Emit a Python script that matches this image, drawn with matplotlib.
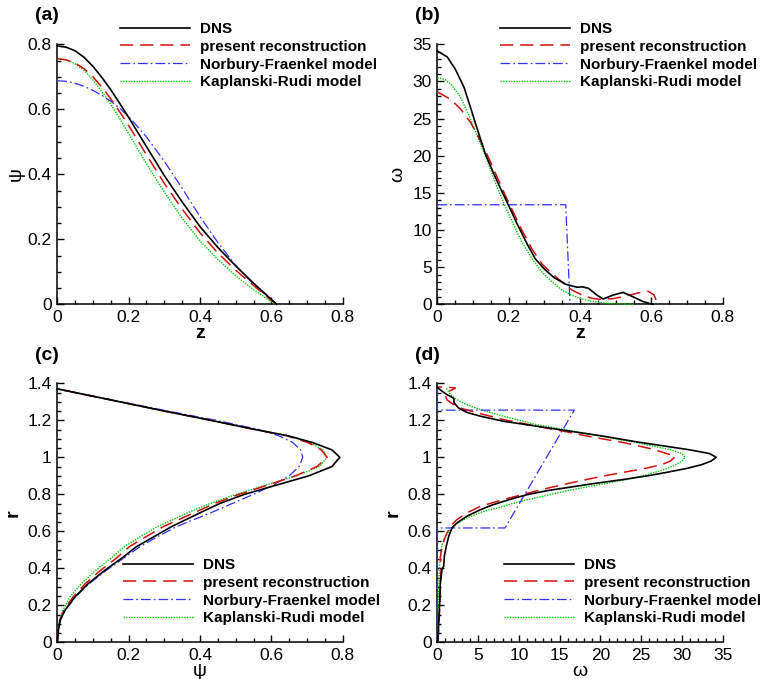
import matplotlib
matplotlib.use('Agg')
import matplotlib.pyplot as plt
from matplotlib.ticker import MultipleLocator, FuncFormatter

plt.rcParams['font.family'] = ['Liberation Sans', 'DejaVu Sans']
plt.rcParams['lines.scale_dashes'] = False

labels = ['DNS', 'present reconstruction', 'Norbury-Fraenkel model', 'Kaplanski-Rudi model']

# (a) stream function along the axis, psi(z)
z_a = [0, 0.025, 0.05, 0.075, 0.1, 0.125, 0.15, 0.175, 0.2, 0.25, 0.3, 0.35, 0.4, 0.45, 0.5, 0.55, 0.6, 0.615]
psi_a_dns = [0.795, 0.791, 0.78, 0.76, 0.732, 0.698, 0.66, 0.618, 0.575, 0.485, 0.396, 0.315, 0.239, 0.175, 0.118, 0.065, 0.015, 0]
psi_a_rec = [0.756, 0.752, 0.742, 0.725, 0.70, 0.668, 0.632, 0.592, 0.55, 0.46, 0.372, 0.293, 0.22, 0.158, 0.105, 0.058, 0.012, 0]
psi_a_nf = [0.688, 0.686, 0.68, 0.671, 0.658, 0.643, 0.625, 0.603, 0.578, 0.515, 0.44, 0.357, 0.27, 0.19, 0.12, 0.062, 0.014, 0]
z_a_kr = [0, 0.025, 0.05, 0.075, 0.1, 0.125, 0.15, 0.175, 0.2, 0.25, 0.3, 0.35, 0.4, 0.45, 0.5, 0.55, 0.6, 0.61]
psi_a_kr = [0.756, 0.752, 0.74, 0.72, 0.69, 0.655, 0.615, 0.572, 0.525, 0.432, 0.345, 0.265, 0.195, 0.138, 0.088, 0.045, 0.008, 0]

# (b) vorticity along the axis, omega(z)
z_b_dns = [0, 0.028, 0.051, 0.075, 0.093, 0.112, 0.135, 0.159, 0.182, 0.2, 0.224, 0.252, 0.275, 0.299, 0.327,
           0.36, 0.375, 0.392, 0.407, 0.424, 0.447, 0.465, 0.493, 0.521, 0.549, 0.577, 0.596, 0.605]
om_b_dns = [34.1, 33.3, 31.6, 29.2, 26.5, 23.6, 20.2, 17.5, 15.1, 13.3, 10.8, 8.1, 6.1, 4.8, 3.6,
            2.7, 2.5, 2.3, 2.35, 2.15, 1.25, 0.71, 1.25, 1.6, 1.0, 0.36, 0.1, 0]
z_b_rec = [0, 0.037, 0.065, 0.093, 0.121, 0.145, 0.168, 0.191, 0.215, 0.238, 0.266, 0.294, 0.322, 0.35,
           0.378, 0.406, 0.434, 0.456, 0.493, 0.53, 0.568, 0.591, 0.607, 0.615, 0.617]
om_b_rec = [28.6, 27.6, 26.3, 24.5, 22.0, 19.6, 17.1, 14.6, 12.2, 9.9, 7.4, 5.4, 4.1, 3.0,
            1.9, 1.25, 0.8, 0.67, 0.76, 1.13, 1.58, 1.76, 1.27, 0.4, 0]
z_b_nf = [0, 0.36, 0.372]
om_b_nf = [13.4, 13.4, 0]
z_b_kr = [0, 0.02, 0.037, 0.065, 0.093, 0.121, 0.145, 0.168, 0.191, 0.215, 0.238, 0.266, 0.294, 0.322,
          0.35, 0.378, 0.406, 0.434, 0.467, 0.5, 0.55]
om_b_kr = [30.5, 30.3, 29.7, 27.9, 24.9, 21.6, 18.7, 15.7, 13.1, 10.6, 8.3, 6.1, 4.3, 3.0,
           1.9, 1.2, 0.7, 0.4, 0.18, 0.06, 0]

# (c) stream function across the ring, psi(r)
r_c = [0, 0.066, 0.12, 0.175, 0.247, 0.318, 0.39, 0.454, 0.517, 0.57, 0.625, 0.7, 0.75, 0.8, 0.85,
       0.9, 0.95, 1.0, 1.04, 1.08, 1.117, 1.15, 1.2, 1.25, 1.3, 1.37]
psi_c_dns = [0, 0.003, 0.008, 0.022, 0.05, 0.087, 0.134, 0.18, 0.222, 0.27, 0.32, 0.40, 0.455, 0.525, 0.615,
             0.705, 0.77, 0.792, 0.77, 0.715, 0.645, 0.554, 0.43, 0.30, 0.175, 0]
psi_c_rec = [0, 0.002, 0.007, 0.019, 0.045, 0.079, 0.122, 0.165, 0.202, 0.248, 0.297, 0.383, 0.44, 0.51, 0.59,
             0.668, 0.728, 0.756, 0.74, 0.702, 0.642, 0.554, 0.43, 0.30, 0.175, 0]
psi_c_nf = [0, 0.003, 0.009, 0.023, 0.052, 0.09, 0.138, 0.185, 0.232, 0.28, 0.334, 0.43, 0.49, 0.55, 0.605,
            0.65, 0.678, 0.688, 0.682, 0.66, 0.62, 0.565, 0.445, 0.31, 0.18, 0]
psi_c_kr = [0, 0.002, 0.006, 0.016, 0.036, 0.068, 0.108, 0.15, 0.188, 0.232, 0.28, 0.365, 0.428, 0.502, 0.585,
            0.67, 0.735, 0.756, 0.745, 0.708, 0.648, 0.56, 0.432, 0.30, 0.175, 0]

# (d) vorticity across the ring, omega(r)
r_d_dns = [0, 0.014, 0.105, 0.213, 0.32, 0.393, 0.411, 0.465, 0.519, 0.573, 0.618, 0.645, 0.681, 0.717,
           0.74, 0.76, 0.78, 0.8, 0.82, 0.84, 0.86, 0.88, 0.9, 0.92, 0.94, 0.96, 0.98, 1.0,
           1.02, 1.04, 1.056, 1.083, 1.114, 1.141, 1.168, 1.195, 1.222, 1.243, 1.267, 1.29, 1.295,
           1.318, 1.34, 1.36, 1.378]
om_d_dns = [0, 0.09, 0.17, 0.29, 0.37, 0.57, 0.78, 0.86, 1.1, 1.4, 1.8, 2.4, 3.6, 5.3,
            6.6, 8.0, 9.5, 11.2, 13.5, 16.5, 19.5, 22.8, 25.8, 28.3, 30.6, 32.4, 33.6, 34.2,
            33.4, 31.0, 28.6, 24.5, 20.4, 16.3, 12.2, 8.1, 5.3, 3.6, 2.6, 2.15, 2.04,
            2.04, 1.15, 0.5, 0]
r_d_rec = [0, 0.014, 0.07, 0.177, 0.285, 0.393, 0.456, 0.519, 0.573, 0.627, 0.663, 0.699, 0.735, 0.76,
           0.78, 0.8, 0.82, 0.84, 0.86, 0.88, 0.9, 0.92, 0.94, 0.96, 0.98, 1.005,
           1.043, 1.079, 1.111, 1.141, 1.168, 1.204, 1.24, 1.267, 1.285, 1.31, 1.337, 1.355, 1.368,
           1.375, 1.379, 1.38]
om_d_rec = [0, 0.09, 0.17, 0.29, 0.37, 0.45, 0.37, 0.58, 1.0, 1.6, 2.4, 3.6, 5.3, 7.2,
            8.8, 10.6, 12.3, 14.2, 16.2, 18.3, 20.5, 23.0, 25.5, 27.5, 28.6, 29.2,
            26.5, 22.9, 18.8, 15.5, 12.2, 8.1, 4.9, 2.8, 2.0, 1.2, 0.95, 1.3, 2.0,
            2.2, 1.2, 0]
r_d_nf = [0, 0.618, 0.618, 1.255, 1.255, 1.37]
om_d_nf = [0, 0, 8.3, 16.8, 0, 0]
r_d_kr = [0, 0.14, 0.285, 0.43, 0.5, 0.555, 0.6, 0.636, 0.672, 0.708, 0.735, 0.76, 0.78, 0.8, 0.82,
          0.84, 0.86, 0.88, 0.9, 0.92, 0.94, 0.96, 0.98, 1.0, 1.02, 1.041, 1.079, 1.111, 1.145,
          1.176, 1.222, 1.258, 1.285, 1.312, 1.339, 1.366, 1.375]
om_d_kr = [0, 0.09, 0.17, 0.29, 0.45, 0.8, 1.4, 2.2, 3.6, 5.7, 8.1, 10.0, 12.0, 14.0, 16.0,
           18.4, 20.8, 23.2, 25.2, 26.8, 28.2, 29.3, 30.0, 30.4, 30.0, 28.6, 24.5, 20.4, 16.3,
           12.2, 8.1, 5.3, 3.6, 2.4, 1.6, 1.2, 1.0]

styles = [
    dict(color='black', lw=1.2, ls='-'),
    dict(color='#d01010', lw=1.1, dashes=(9.5, 5)),
    dict(color='#3030ff', lw=0.9, dashes=(7, 2.2, 1.2, 2.2)),
    dict(color='#00cc00', lw=1.0, dashes=(1.0, 0.9)),
]

fmt = FuncFormatter(lambda v, p: '%g' % round(v, 6))


def style_axes(ax, xlim, ylim, xmaj, xmin, ymaj, ymin):
    ax.set_xlim(*xlim)
    ax.set_ylim(*ylim)
    ax.xaxis.set_major_locator(MultipleLocator(xmaj))
    ax.xaxis.set_minor_locator(MultipleLocator(xmin))
    ax.yaxis.set_major_locator(MultipleLocator(ymaj))
    ax.yaxis.set_minor_locator(MultipleLocator(ymin))
    ax.xaxis.set_major_formatter(fmt)
    ax.yaxis.set_major_formatter(fmt)
    for s in ['top', 'right']:
        ax.spines[s].set_visible(False)
    for s in ['left', 'bottom']:
        ax.spines[s].set_linewidth(1.1)
    ax.tick_params(which='both', direction='in', top=False, right=False, width=1.0, labelsize=12.5, pad=4)
    ax.tick_params(which='major', length=5)
    ax.tick_params(which='minor', length=3)


fig = plt.figure(figsize=(7.6, 6.79), dpi=100)
W, H = 760.0, 679.0
axa = fig.add_axes([57.3 / W, 1 - 304.3 / H, 285.4 / W, 260 / H])
axb = fig.add_axes([437.3 / W, 1 - 304.3 / H, 285.4 / W, 260 / H])
axc = fig.add_axes([57.3 / W, 1 - 642.3 / H, 285.4 / W, 259 / H])
axd = fig.add_axes([437.3 / W, 1 - 642.3 / H, 285.4 / W, 259 / H])

series_a = [(z_a, psi_a_dns), (z_a, psi_a_rec), (z_a, psi_a_nf), (z_a_kr, psi_a_kr)]
series_b = [(z_b_dns, om_b_dns), (z_b_rec, om_b_rec), (z_b_nf, om_b_nf), (z_b_kr, om_b_kr)]
series_c = [(psi_c_dns, r_c), (psi_c_rec, r_c), (psi_c_nf, r_c), (psi_c_kr, r_c)]
series_d = [(om_d_dns, r_d_dns), (om_d_rec, r_d_rec), (om_d_nf, r_d_nf), (om_d_kr, r_d_kr)]

# draw in back-to-front order so the DNS line sits on top
order = [3, 2, 1, 0]
for ax, series in [(axa, series_a), (axb, series_b), (axc, series_c), (axd, series_d)]:
    handles = [None] * 4
    for i in order:
        x, y = series[i]
        handles[i], = ax.plot(x, y, label=labels[i], clip_on=False, zorder=3 + (3 - i), **styles[i])
    ax.handles = handles

style_axes(axa, (0, 0.8), (0, 0.8), 0.2, 0.05, 0.2, 0.05)
style_axes(axb, (0, 0.8), (0, 35), 0.2, 0.05, 5, 1)
style_axes(axc, (0, 0.8), (0, 1.4), 0.2, 0.05, 0.2, 0.05)
style_axes(axd, (0, 35), (0, 1.4), 5, 1, 0.2, 0.05)

bold = dict(fontsize=14, fontweight='bold')
greek = dict(fontsize=14)
axa.set_xlabel('z', labelpad=0, **bold)
axa.set_ylabel('ψ', labelpad=2, **greek)
axb.set_xlabel('z', labelpad=0, **bold)
axb.set_ylabel('ω', labelpad=4, **greek)
axc.set_xlabel('ψ', labelpad=0, **greek)
axc.set_ylabel('r', labelpad=4, **bold)
axd.set_xlabel('ω', labelpad=0, **greek)
axd.set_ylabel('r', labelpad=4, **bold)

for tag, x, y in [('(a)', 35, 15), ('(b)', 415, 15), ('(c)', 35, 355), ('(d)', 415, 355)]:
    fig.text(x / W, 1 - y / H, tag, fontsize=14, fontweight='bold', va='center', ha='left')

legend_pos = {axa: (120, 22), axb: (500, 22), axc: (123, 558), axd: (504, 558)}
for ax, (lx, ly) in legend_pos.items():
    ax.legend(handles=ax.handles, loc='upper left', bbox_to_anchor=(lx / W, 1 - ly / H),
              bbox_transform=fig.transFigure, frameon=False, borderpad=0, borderaxespad=0,
              handlelength=4.6, handletextpad=0.65, labelspacing=0.25,
              prop=dict(family='Liberation Sans', weight='bold', size=11))

fig.savefig('out.png', dpi=100)
